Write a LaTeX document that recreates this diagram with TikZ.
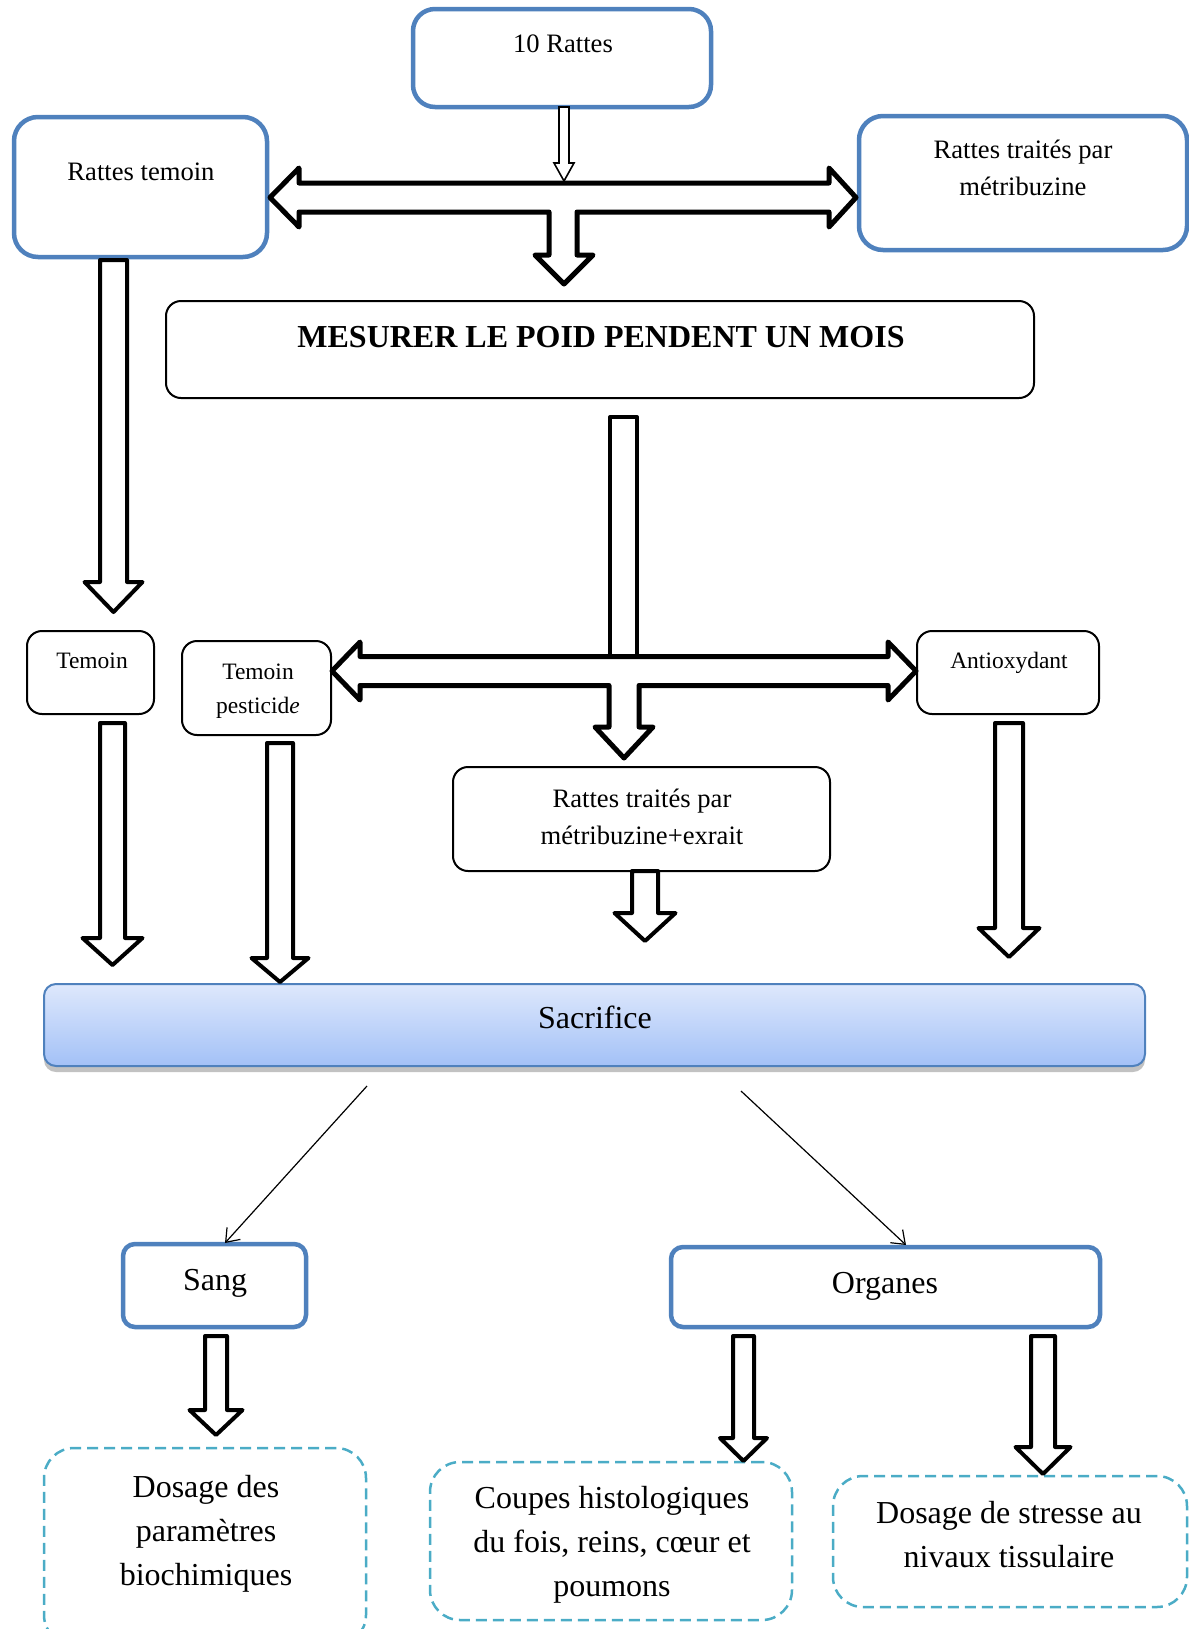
\documentclass[tikz,border=0pt]{standalone}
\usepackage{fontspec}
\setmainfont{Liberation Serif}
\usetikzlibrary{fit,shadows,arrows.meta}
\definecolor{ofblue}{HTML}{4F81BD}
\definecolor{ofteal}{HTML}{4BACC6}
\definecolor{sactop}{HTML}{DEE8FC}
\definecolor{sacbot}{HTML}{A3C1F7}
\newcommand{\mlines}[1]{\begin{tabular}[t]{@{}c@{}}#1\end{tabular}}
\newcommand{\fsA}{\fontsize{13.3}{18.5}\selectfont}
\newcommand{\fsB}{\fontsize{11.75}{17}\selectfont}
\newcommand{\fsC}{\fontsize{16}{22}\selectfont}
% x, ytop, yback, ytip, half shaft, half head
\newcommand{\bdown}[7][blockarrow]{\draw[#1] ({#2-#6},#3) -- ({#2-#6},#4) -- ({#2-#7},#4) -- (#2,#5) -- ({#2+#7},#4) -- ({#2+#6},#4) -- ({#2+#6},#3) -- cycle;}
\begin{document}
\begin{tikzpicture}[x=0.5pt,y=-0.5pt,
  bluebox/.style={draw=ofblue,line width=2.25pt,rounded corners=11pt,inner sep=0pt,outer sep=0pt,fill=white},
  blackbox/.style={draw=black,line width=1pt,rounded corners=7.5pt,inner sep=0pt,outer sep=0pt,fill=white},
  dashbox/.style={draw=ofteal,line width=1.25pt,dash pattern=on 5.5pt off 3pt,rounded corners=15pt,inner sep=0pt,outer sep=0pt},
  sacbox/.style={draw=ofblue,line width=1pt,rounded corners=6pt,top color=sactop,bottom color=sacbot,
    drop shadow={shadow xshift=0pt,shadow yshift=-3pt,opacity=0.4,fill=black!60},inner sep=0pt,outer sep=0pt},
  txt/.style={anchor=base,inner sep=0pt,font=\fsA},
  blockarrow/.style={draw=black,fill=white,line width=2pt,line join=round},
  bigarrow/.style={blockarrow,line width=2.5pt},
  thinblock/.style={draw=black,fill=white,line width=0.8pt},
  thinarrow/.style={draw=black,line width=0.6pt,-{Straight Barb[length=6pt,width=9pt]}}
]
\useasboundingbox (0,0) rectangle (1189,1629);
\clip (0,0) rectangle (1189,1629);

% boxes
\node[bluebox,fit={(413,9)(711,107)}] (rat10) {};
\node[bluebox,rounded corners=12pt,fit={(14,117)(267,257)}] (rtem) {};
\node[bluebox,rounded corners=12pt,fit={(859,116)(1187,250)}] (rtrt) {};
\node[blackbox,fit={(166,301)(1034,398)}] (mes) {};
\node[blackbox,fit={(27,631)(154,714)}] (tem) {};
\node[blackbox,fit={(182,641)(331,735)}] (tpest) {};
\node[blackbox,fit={(917,631)(1099,714)}] (antiox) {};
\node[blackbox,fit={(453,767)(830,871)}] (rmex) {};
\node[sacbox,fit={(44,984)(1145,1066)}] (sac) {};
\node[bluebox,rounded corners=6pt,fit={(123,1244)(306,1327)}] (sang) {};
\node[bluebox,rounded corners=6pt,fit={(671,1247)(1100,1327)}] (org) {};
\node[dashbox,fit={(44,1448)(366,1645)}] (dos1) {};
\node[dashbox,fit={(430,1462)(792,1620)}] (dos2) {};
\node[dashbox,fit={(833,1476)(1187,1607)}] (dos3) {};

% top T arrow
\draw[bigarrow] (270,197.5) -- (299,168) -- (299,183) -- (829,183) -- (829,168) -- (856,197.5) -- (829,227) -- (829,212) -- (577,212) -- (577,255) -- (593,255) -- (564,284) -- (535,255) -- (549,255) -- (549,212) -- (299,212) -- (299,227) -- cycle;
\bdown[thinblock]{564}{107}{163}{181}{5}{10}

% arrow from Rattes temoin
\bdown{113.5}{260}{582}{612}{13.5}{29}

% shaft from MESURER and middle T arrow
\draw[blockarrow] (610,417) rectangle (637,660);
\draw[bigarrow] (332,671) -- (360,642) -- (360,656.5) -- (888,656.5) -- (888,642) -- (916,671) -- (888,700) -- (888,685.5) -- (639,685.5) -- (639,727) -- (653,727) -- (624,758) -- (595,727) -- (609,727) -- (609,685.5) -- (360,685.5) -- (360,700) -- cycle;

% arrows to Sacrifice
\bdown{112.5}{723}{938}{965}{12.5}{30}
\bdown{280}{743}{958}{982}{13}{28.5}
\bdown{645}{871}{913}{941}{13}{30.5}
\bdown{1009}{723}{928}{957}{14}{30.5}

% thin arrows
\coordinate (a1) at (367,1086);
\coordinate (a2) at (741,1091);
\coordinate (b1) at (225,1243);
\coordinate (b2) at (906,1245);
\draw[thinarrow] (a1) -- (b1);
\draw[thinarrow] (a2) -- (b2);

% bottom arrows
\bdown{216}{1336}{1410}{1435}{11}{26.5}
\bdown{743.5}{1336}{1438}{1461}{10.5}{23.5}
\bdown{1043}{1336}{1447}{1474}{12}{27.5}

% texts
\node[txt] (t1) at (563,52) {10 Rattes};
\node[txt] (t2) at (141,180) {Rattes temoin};
\node[txt] (t3) at (1023,158) {\mlines{Rattes traités par\\métribuzine}};
\node[txt,font=\fsC\bfseries] (t4) at (601,347) {MESURER LE POID PENDENT UN MOIS};
\node[txt,font=\fsB] (t5) at (92,668) {Temoin};
\node[txt,font=\fsB] (t6) at (258,679) {\mlines{Temoin\\pesticid\textit{e}}};
\node[txt,font=\fsB] (t7) at (1009,668) {Antioxydant};
\node[txt] (t8) at (642,807) {\mlines{Rattes traités par\\métribuzine+exrait}};
\node[txt,font=\fsC] (t9) at (595,1028) {Sacrifice};
\node[txt,font=\fsC] (t10) at (215,1290) {Sang};
\node[txt,font=\fsC] (t11) at (885,1293) {Organes};
\node[txt,font=\fsC] (t12) at (206,1497) {\mlines{Dosage des\\paramètres\\biochimiques}};
\node[txt,font=\fsC] (t13) at (612,1508) {\mlines{Coupes histologiques\\du fois, reins, cœur et\\poumons}};
\node[txt,font=\fsC] (t14) at (1009,1523) {\mlines{Dosage de stresse au\\nivaux tissulaire}};
\end{tikzpicture}
\end{document}
